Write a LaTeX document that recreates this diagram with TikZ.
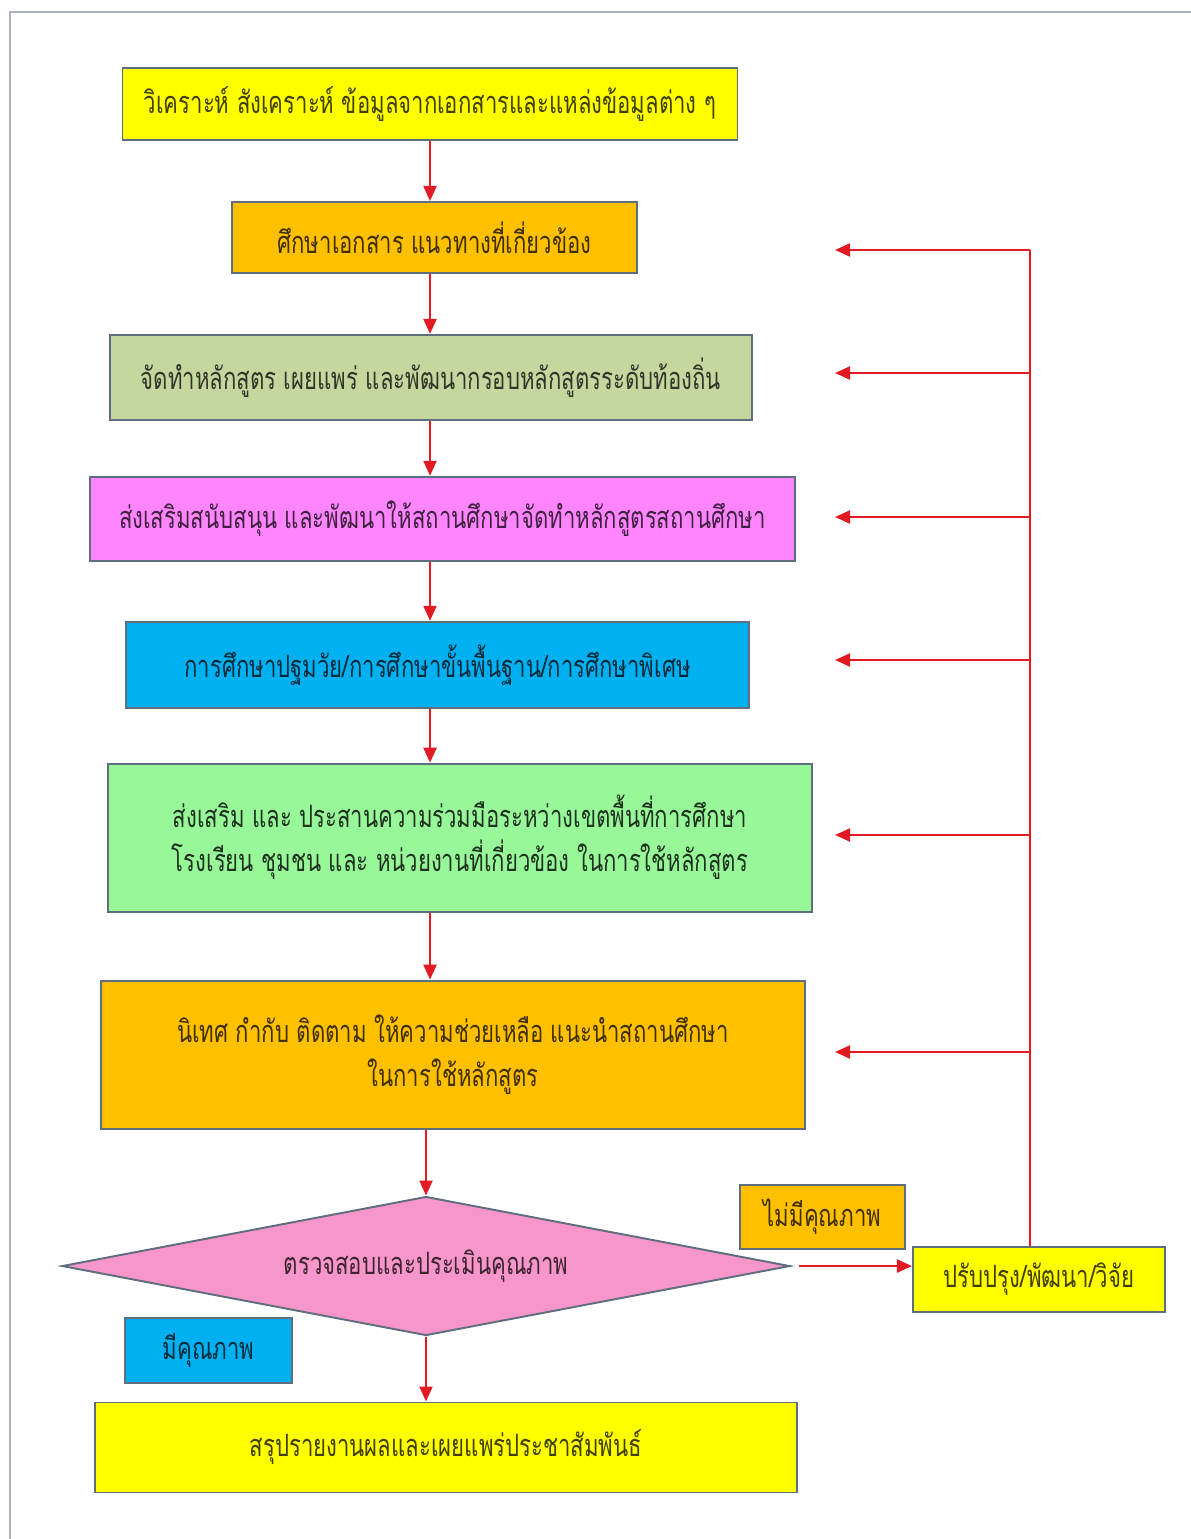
\documentclass[tikz,border=0pt]{standalone}
\usepackage{fontspec}
\usepackage{xcolor}
\usepackage{tikz}
\usetikzlibrary{shapes.geometric,arrows.meta,positioning}
\newfontfamily\thaifont[Script=Thai,FakeStretch=0.72]{Loma}

\definecolor{boxyellow}{HTML}{FFFF00}
\definecolor{boxorange}{HTML}{FFC000}
\definecolor{boxsage}{HTML}{C4D79F}
\definecolor{boxviolet}{HTML}{FF85FF}
\definecolor{boxblue}{HTML}{00B0F0}
\definecolor{boxgreen}{HTML}{98F899}
\definecolor{boxpink}{HTML}{F796CA}
\definecolor{rimgray}{HTML}{5F6E7E}
\definecolor{flowred}{HTML}{E01B24}
\definecolor{framegray}{HTML}{A7B1BC}

\begin{document}
\begin{tikzpicture}[
    node distance=1.2cm,
    box/.style={rectangle, draw=rimgray, line width=1.1pt, align=center, inner sep=2pt,
                font=\thaifont\fontsize{17.5}{25}\selectfont},
    decision/.style={diamond, draw=rimgray, line width=1.1pt, fill=boxpink, inner sep=0pt,
                aspect=5, text=boxpink!25!black, font=\thaifont\fontsize{17.5}{25}\selectfont},
    arrow/.style={line width=1.3pt, draw=flowred, -{Triangle[length=0.3cm,width=0.26cm]}},
    line/.style={line width=1.3pt, draw=flowred}
]
\useasboundingbox (0,0) rectangle (23.8,-30.78);

% Frame
\draw[framegray, line width=1.5pt] (0.2,-30.9) |- (23.9,-0.24);

% Main flow
\node[box, fill=boxyellow, text=boxyellow!25!black, minimum width=12.3cm, minimum height=1.44cm]
    at (8.6,-2.08) (analyse) {วิเคราะห์ สังเคราะห์ ข้อมูลจากเอกสารและแหล่งข้อมูลต่าง ๆ};

\node[box, fill=boxorange, text=boxorange!25!black, minimum width=8.1cm, minimum height=1.42cm,
    below=1.2cm of analyse, xshift=0.09cm] (study) {ศึกษาเอกสาร แนวทางที่เกี่ยวข้อง};

\node[box, fill=boxsage, text=boxsage!25!black, minimum width=12.84cm, minimum height=1.7cm,
    below=1.2cm of study, xshift=-0.07cm] (framework) {จัดทำหลักสูตร เผยแพร่ และพัฒนากรอบหลักสูตรระดับท้องถิ่น};

\node[box, fill=boxviolet, text=boxviolet!25!black, minimum width=14.1cm, minimum height=1.68cm,
    below=1.1cm of framework, xshift=0.23cm] (support) {ส่งเสริมสนับสนุน และพัฒนาให้สถานศึกษาจัดทำหลักสูตรสถานศึกษา};

\node[box, fill=boxblue, text=boxblue!25!black, minimum width=12.46cm, minimum height=1.72cm,
    below=1.18cm of support, xshift=-0.1cm] (levels) {การศึกษาปฐมวัย/การศึกษาขั้นพื้นฐาน/การศึกษาพิเศษ};

\node[box, fill=boxgreen, text=boxgreen!20!black, minimum width=14.08cm, minimum height=2.96cm,
    below=1.08cm of levels, xshift=0.45cm] (network) {ส่งเสริม และ ประสานความร่วมมือระหว่างเขตพื้นที่การศึกษา\\โรงเรียน ชุมชน และ หน่วยงานที่เกี่ยวข้อง ในการใช้หลักสูตร};

\node[box, fill=boxorange, text=boxorange!25!black, minimum width=14.08cm, minimum height=2.96cm,
    below=1.34cm of network, xshift=-0.14cm] (supervise) {นิเทศ กำกับ ติดตาม ให้ความช่วยเหลือ แนะนำสถานศึกษา\\ในการใช้หลักสูตร};

\node[decision, minimum width=14.56cm, minimum height=2.78cm,
    below=1.32cm of supervise, xshift=-0.54cm] (assess) {ตรวจสอบและประเมินคุณภาพ};

\node[box, fill=boxyellow, text=boxyellow!25!black, minimum width=14.04cm, minimum height=1.8cm,
    below=1.3cm of assess, xshift=0.4cm] (report) {สรุปรายงานผลและเผยแพร่ประชาสัมพันธ์};

% Side boxes
\node[box, fill=boxyellow, text=boxyellow!25!black, minimum width=5.04cm, minimum height=1.3cm,
    right=2.42cm of assess, yshift=-0.26cm] (improve) {ปรับปรุง/พัฒนา/วิจัย};
\node[box, fill=boxorange, text=boxorange!25!black, minimum width=3.3cm, minimum height=1.28cm]
    at (16.45,-24.34) (nopass) {ไม่มีคุณภาพ};
\node[box, fill=boxblue, text=boxblue!25!black, minimum width=3.34cm, minimum height=1.3cm]
    at (4.17,-27.01) (pass) {มีคุณภาพ};

% Arrow spine and feedback rail
\coordinate (spine) at (8.6,0);
\coordinate (rail) at (20.6,0);
\coordinate (back1) at (16.7,-5.0);
\coordinate (back2) at (16.7,-7.46);
\coordinate (back3) at (16.7,-10.34);
\coordinate (back4) at (16.7,-13.2);
\coordinate (back5) at (16.7,-16.7);
\coordinate (back6) at (16.7,-21.04);

% Arrows
\draw[arrow] (spine |- analyse.south) -- (spine |- study.north);
\draw[arrow] (spine |- study.south) -- (spine |- framework.north);
\draw[arrow] (spine |- framework.south) -- (spine |- support.north);
\draw[arrow] (spine |- support.south) -- (spine |- levels.north);
\draw[arrow] (spine |- levels.south) -- (spine |- network.north);
\draw[arrow] (spine |- network.south) -- (spine |- supervise.north);
\draw[arrow] (assess.north |- supervise.south) -- (assess.north);
\draw[arrow] (assess.south) -- (assess.south |- report.north);
\draw[arrow] ([xshift=0.16cm]assess.east) -- (assess.east -| improve.west);

% Feedback
\draw[line] (rail |- improve.north) -- (rail |- back1);
\draw[arrow] (rail |- back1) -- (back1);
\draw[arrow] (rail |- back2) -- (back2);
\draw[arrow] (rail |- back3) -- (back3);
\draw[arrow] (rail |- back4) -- (back4);
\draw[arrow] (rail |- back5) -- (back5);
\draw[arrow] (rail |- back6) -- (back6);

\end{tikzpicture}
\end{document}
